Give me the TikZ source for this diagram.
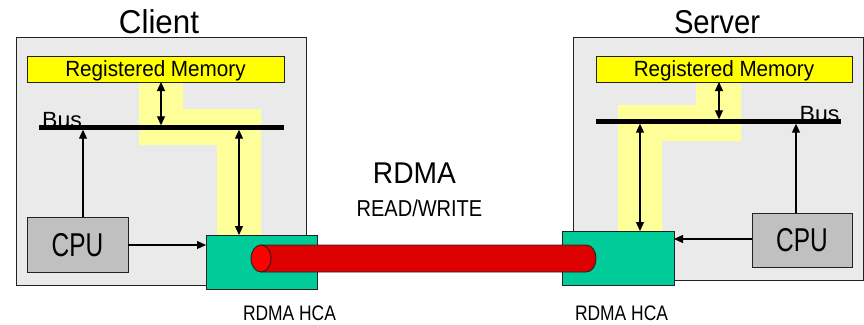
\documentclass[tikz,border=0pt]{standalone}
\usepackage{fontspec}
\setmainfont{Liberation Sans}
\usetikzlibrary{arrows.meta}
\definecolor{boxgray}{HTML}{EAEAEA}
\definecolor{edge}{HTML}{222222}
\definecolor{memyellow}{HTML}{FFFF00}
\definecolor{hilite}{HTML}{FFFF99}
\definecolor{cpugray}{HTML}{C0C0C0}
\definecolor{hcagreen}{HTML}{00CC99}
\definecolor{cylbody}{HTML}{DD0000}
\definecolor{cylend}{HTML}{FF0000}
\begin{document}
\begin{tikzpicture}[x=1pt,y=-1pt,
  panel/.style={draw=edge, fill=boxgray, line width=0.9pt, anchor=north west, inner sep=0pt, outer sep=0pt},
  mem/.style={draw=edge, fill=memyellow, line width=0.9pt, anchor=north west, inner sep=0pt, outer sep=0pt,
    minimum height=26pt, font=\fontsize{22}{24}\selectfont, text height=15.8pt, text depth=0pt},
  cpubox/.style={draw=edge, fill=cpugray, line width=0.9pt, anchor=north west, inner sep=0pt, outer sep=0pt,
    font=\fontsize{33}{36}\selectfont, text height=23.6pt, text depth=0pt},
  hcabox/.style={draw=edge, fill=hcagreen, line width=0.9pt, anchor=north west, inner sep=0pt, outer sep=0pt},
  arr/.style={-{Triangle[length=9pt,width=8pt]}, line width=1.1pt},
  dbl/.style={{Triangle[length=9pt,width=8pt]}-{Triangle[length=9pt,width=8pt]}, line width=1.1pt},
  busline/.style={line width=4.4pt},
  glow/.style={fill=hilite},
  lbl/.style={anchor=base, inner sep=0pt}
]
\useasboundingbox (0,0) rectangle (864,324);
\fill[white] (0,0) rectangle (864,324);

% ---------- Client ----------
\node[panel, minimum width=290pt, minimum height=248pt] (cbox) at (16,37) {};
\fill[glow] (139,82) -- (183,82) -- (183,109) -- (261,109) -- (261,235) -- (217,235) -- (217,145) -- (139,145) -- cycle;
\node[mem, minimum width=257pt] (cmem) at (27,56) {\scalebox{0.94}[1]{Registered Memory}};
\coordinate (cbusL) at (39,127.5);
\coordinate (cbusR) at (284,127.5);
\draw[busline] (cbusL) -- (cbusR);
\node[lbl, font=\fontsize{22}{24}\selectfont] (cbuslbl) at (62,127) {\scalebox{1.05}[1]{Bus}};
\node[cpubox, minimum width=101pt, minimum height=55pt] (ccpu) at (27,217) {\scalebox{0.74}[1]{CPU}};
\node[hcabox, minimum width=111pt, minimum height=54pt] (chca) at (206,235) {};
\coordinate (cx1) at (161,0);
\coordinate (cx2) at (239,0);
\coordinate (cx3) at (83,0);
\draw[dbl, shorten >=2.2pt] (cmem.south -| cx1) -- (cbusL -| cx1);
\draw[dbl, shorten <=2.2pt] (cbusL -| cx2) -- (chca.north -| cx2);
\draw[arr, shorten >=2.2pt] (ccpu.north -| cx3) -- (cbusL -| cx3);
\coordinate (cy1) at (0,245);
\draw[arr] (ccpu.east |- cy1) -- (chca.west |- cy1);

% ---------- Server ----------
\node[panel, minimum width=290pt, minimum height=243pt] (sbox) at (573,37) {};
\fill[glow] (696,82) -- (741,82) -- (741,141) -- (662,141) -- (662,231) -- (618,231) -- (618,105) -- (696,105) -- cycle;
\node[mem, minimum width=256pt] (smem) at (596,56) {\scalebox{0.94}[1]{Registered Memory}};
\coordinate (sbusL) at (596,121.5);
\coordinate (sbusR) at (841,121.5);
\draw[busline] (sbusL) -- (sbusR);
\node[lbl, font=\fontsize{22}{24}\selectfont] (sbuslbl) at (819.5,121) {\scalebox{1.05}[1]{Bus}};
\node[cpubox, minimum width=100pt, minimum height=54pt] (scpu) at (752,213) {\scalebox{0.74}[1]{CPU}};
\node[hcabox, minimum width=112pt, minimum height=54pt] (shca) at (562,231) {};
\coordinate (sx1) at (719,0);
\coordinate (sx2) at (640,0);
\coordinate (sx3) at (796,0);
\draw[dbl, shorten >=2.2pt] (smem.south -| sx1) -- (sbusL -| sx1);
\draw[dbl, shorten <=2.2pt] (sbusL -| sx2) -- (shca.north -| sx2);
\draw[arr, shorten >=2.2pt] (scpu.north -| sx3) -- (sbusL -| sx3);
\coordinate (sy1) at (0,239);
\draw[arr] (scpu.west |- sy1) -- (shca.east |- sy1);

% ---------- RDMA cable ----------
\draw[edge, fill=cylbody, line width=0.9pt]
  (261,245) -- (586,245) .. controls (599.3,245) and (599.3,272) .. (586,272) -- (261,272) -- cycle;
\draw[edge, fill=cylend, line width=0.9pt] (261,258.5) ellipse [x radius=10, y radius=13.5];

% ---------- Labels ----------
\node[lbl, font=\fontsize{33}{36}\selectfont] (clientlbl) at (159,33.5) {\scalebox{0.95}[1]{Client}};
\node[lbl, font=\fontsize{33}{36}\selectfont] (serverlbl) at (717,33.5) {\scalebox{0.885}[1]{Server}};
\node[lbl, font=\fontsize{30}{34}\selectfont] (rdmalbl) at (414.5,183.5) {\scalebox{0.94}[1]{RDMA}};
\node[lbl, font=\fontsize{23}{26}\selectfont] (rwlbl) at (419.5,216.7) {\scalebox{0.87}[1]{READ/WRITE}};
\node[lbl, font=\fontsize{21}{24}\selectfont] (chcalbl) at (289.5,320) {\scalebox{0.83}[1]{RDMA HCA}};
\node[lbl, font=\fontsize{21}{24}\selectfont] (shcalbl) at (621.5,320) {\scalebox{0.83}[1]{RDMA HCA}};
\end{tikzpicture}
\end{document}
